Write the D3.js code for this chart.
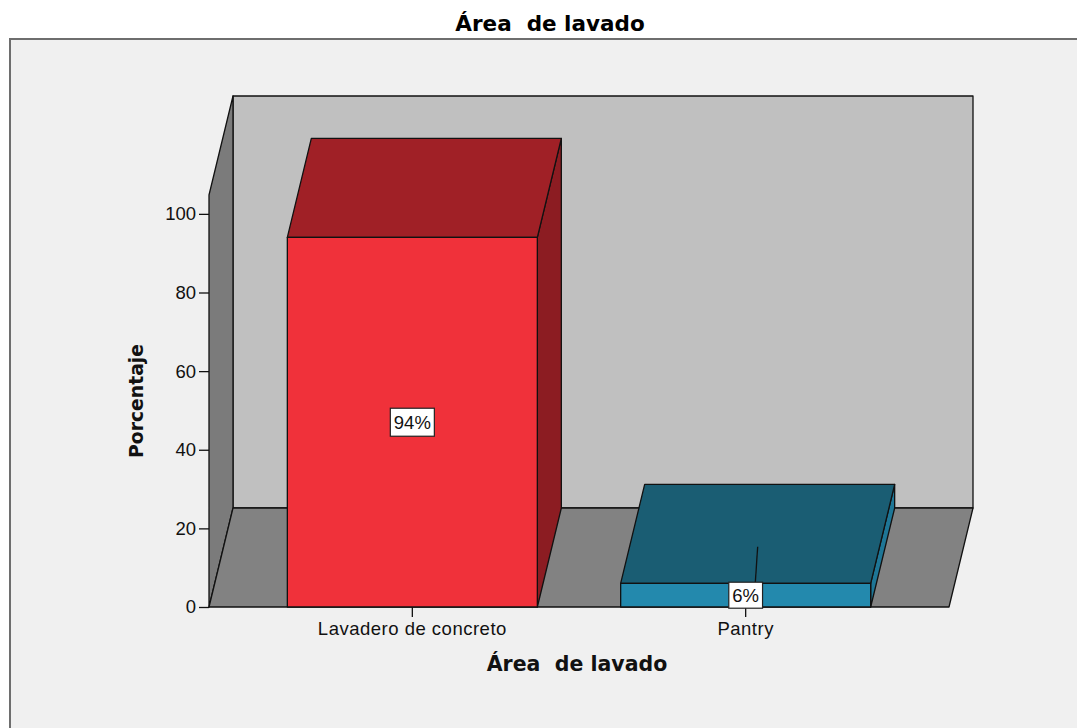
<!DOCTYPE html>
<html><head><meta charset="utf-8">
<script src="https://cdn.jsdelivr.net/npm/d3@7"></script>
<style>body{margin:0;background:#fff;}svg{display:block;} text{white-space:pre;}</style>
</head><body>
<svg id="chart" width="1077" height="728"></svg>
<script>
const categories = ["Lavadero de concreto", "Pantry"];
const values = [94, 6];
const labels = ["94%", "6%"];
const yTicks = [0, 20, 40, 60, 80, 100];
const frontColors = ["#f0313a", "#2389ad"];
const topColors = ["#a02026", "#1a5d73"];
const sideColors = ["#8c1c22", "#1e7696"];
const title = "Área  de lavado";
const xTitle = "Área  de lavado";
const yTitle = "Porcentaje";

(function () {
const svg = d3.select("#chart");
const font = "'Liberation Sans', Arial, sans-serif";
const boldFont = "'DejaVu Sans', 'Liberation Sans', sans-serif";

svg.append("rect").attr("x", 10).attr("y", 39).attr("width", 1080).attr("height", 700)
  .attr("fill", "#f0f0f0").attr("stroke", "#6e6e6e").attr("stroke-width", 2);

svg.append("text").attr("x", 550).attr("y", 31).attr("text-anchor", "middle")
  .attr("font-family", boldFont).attr("font-weight", "bold").attr("font-size", 21.5)
  .attr("fill", "#000").text(title);

const left = 209, right = 949, bottom = 607;
const yMax = 104.8;
const y = d3.scaleLinear().domain([0, yMax]).range([bottom, 195]);
const x = d3.scaleBand().domain(categories).range([left, right]).paddingInner(0.25).paddingOuter(0.235);
const dx = 24, dy = -99;
const yTop = y(yMax);

const line = d3.line();
const stroke = "#111";
function poly(pts, fill) {
  svg.append("path").attr("d", line(pts) + "Z").attr("fill", fill)
    .attr("stroke", stroke).attr("stroke-width", 1.3).attr("stroke-linejoin", "round");
}
poly([[left + dx, yTop + dy], [right + dx, yTop + dy], [right + dx, bottom + dy], [left + dx, bottom + dy]], "#c0c0c0");
poly([[left, yTop], [left + dx, yTop + dy], [left + dx, bottom + dy], [left, bottom]], "#7b7b7b");
poly([[left, bottom], [left + dx, bottom + dy], [right + dx, bottom + dy], [right, bottom]], "#828282");

categories.forEach((c, i) => {
  const x0 = x(c), x1 = x(c) + x.bandwidth();
  const yt = y(values[i]), yb = y(0);
  poly([[x1, yb], [x1 + dx, yb + dy], [x1 + dx, yt + dy], [x1, yt]], sideColors[i]);
  poly([[x0, yt], [x0 + dx, yt + dy], [x1 + dx, yt + dy], [x1, yt]], topColors[i]);
  poly([[x0, yb], [x0, yt], [x1, yt], [x1, yb]], frontColors[i]);
});

const yAxis = svg.append("g").attr("transform", `translate(${left},0)`)
  .call(d3.axisLeft(y).tickValues(yTicks).tickSize(10).tickPadding(3));
yAxis.select(".domain").remove();
yAxis.selectAll(".tick line").attr("stroke", "#111").attr("stroke-width", 1.3);
yAxis.selectAll("text").attr("font-family", font).attr("font-size", 18.5).attr("fill", "#111");

const xAxis = svg.append("g").attr("transform", `translate(0,${bottom})`)
  .call(d3.axisBottom(x).tickSize(10).tickPadding(5));
xAxis.select(".domain").remove();
xAxis.selectAll(".tick line").attr("stroke", "#111").attr("stroke-width", 1.3);
xAxis.selectAll("text").attr("font-family", font).attr("font-size", 18.5)
  .attr("letter-spacing", 0.5).attr("fill", "#111");

categories.forEach((c, i) => {
  const cx = x(c) + x.bandwidth() / 2;
  const cy = y(values[i] / 2);
  if (values[i] < 10) {
    svg.append("line").attr("x1", cx + dx * 0.5).attr("y1", y(values[i]) + dy * 0.37)
      .attr("x2", cx + dx * 0.4).attr("y2", y(values[i])).attr("stroke", "#111").attr("stroke-width", 1.3);
  }
  const g = svg.append("g");
  const t = g.append("text").attr("x", cx).attr("y", cy + 6.5).attr("text-anchor", "middle")
    .attr("font-family", font).attr("font-size", 18.5).attr("fill", "#111").text(labels[i]);
  const bb = t.node().getBBox();
  const h = values[i] < 10 ? 26 : 28;
  g.insert("rect", "text").attr("x", bb.x - 3.5).attr("y", cy - h / 2).attr("width", bb.width + 7).attr("height", h)
    .attr("fill", "#fff").attr("stroke", "#222").attr("stroke-width", 1.2);
});

svg.append("text").attr("x", 577).attr("y", 671).attr("text-anchor", "middle")
  .attr("font-family", boldFont).attr("font-weight", "bold").attr("font-size", 20.5)
  .attr("fill", "#111").text(xTitle);
svg.append("text").attr("transform", "translate(143,401) rotate(-90)").attr("text-anchor", "middle")
  .attr("font-family", boldFont).attr("font-weight", "bold").attr("font-size", 18.8)
  .attr("fill", "#111").text(yTitle);
})();
</script>
</body></html>
